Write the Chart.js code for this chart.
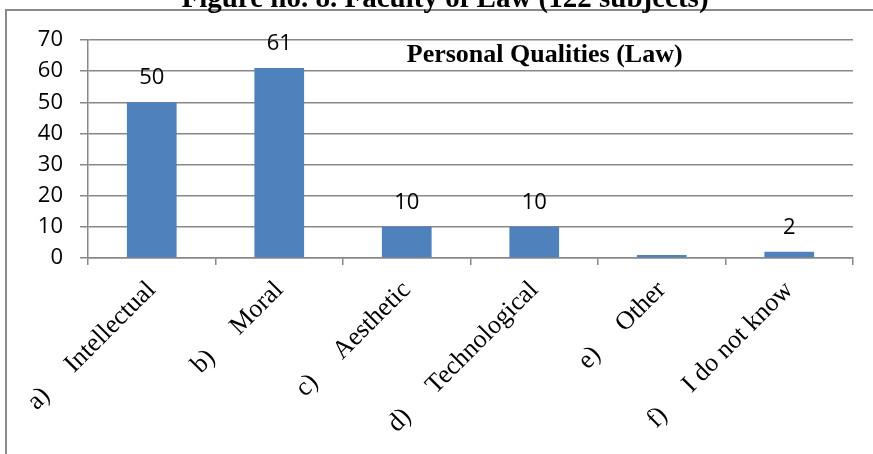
<!DOCTYPE html>
<html><head><meta charset="utf-8">
<script src="https://cdn.jsdelivr.net/npm/chart.js@4/dist/chart.umd.min.js"></script>
<style>
html,body{margin:0;padding:0;background:#fff;overflow:hidden;width:873px;height:454px;}
#frame{position:absolute;left:5px;top:9px;width:900px;height:500px;border-left:2px solid #8a8a8a;border-top:2px solid #8a8a8a;}
#wrap{position:absolute;left:0;top:0;width:873px;height:454px;}
</style></head><body>
<div id="frame"></div>
<div id="wrap"><canvas id="c" width="873" height="454"></canvas></div>
<script>
const categories = ['a)     Intellectual', 'b)     Moral', 'c)     Aesthetic', 'd)     Technological', 'e)     Other', 'f)     I do not know'];
const values = [50, 61, 10, 10, 1, 2];
const valueLabels = ['50', '61', '10', '10', '', '2'];
const yTicks = [0, 10, 20, 30, 40, 50, 60, 70];
const figureTitle = 'Figure no. 8. Faculty of Law (122 subjects)';
const chartTitle = 'Personal Qualities (Law)';

const GRID = '#888888';

const textPlugin = {
  id: 'textPlugin',
  afterDatasetsDraw(chart) {
    const ctx = chart.ctx;
    const meta = chart.getDatasetMeta(0);
    ctx.save();
    ctx.fillStyle = '#000';
    ctx.font = '22px "Open Sans"';
    ctx.textAlign = 'center';
    ctx.textBaseline = 'alphabetic';
    meta.data.forEach((bar, i) => {
      if (valueLabels[i]) ctx.fillText(valueLabels[i], bar.x, bar.y - 18);
    });
    ctx.restore();
  },
  afterDraw(chart) {
    const ctx = chart.ctx;
    const a = chart.chartArea;
    ctx.save();
    ctx.fillStyle = '#000';
    ctx.textAlign = 'center';
    ctx.textBaseline = 'alphabetic';
    ctx.font = 'bold 26px "Liberation Serif"';
    ctx.fillText(chartTitle, a.left + (a.right - a.left) * 0.597, a.top + 22);
    ctx.font = 'bold 29px "Liberation Serif"';
    ctx.fillText(figureTitle, 445, 7);
    ctx.restore();
  }
};

new Chart(document.getElementById('c'), {
  type: 'bar',
  data: {
    labels: categories,
    datasets: [{
      data: values,
      backgroundColor: '#4f81bd',
      borderWidth: 0,
      categoryPercentage: 1,
      barPercentage: 0.39
    }]
  },
  options: {
    responsive: false,
    animation: false,
    events: [],
    layout: { padding: { top: 40, right: 20, left: 0, bottom: 0 } },
    plugins: { legend: { display: false }, tooltip: { enabled: false }, title: { display: false } },
    scales: {
      y: {
        min: 0, max: 70,
        afterBuildTicks(scale) { scale.ticks = yTicks.map(v => ({ value: v })); },
        afterFit(scale) { scale.width = 88; },
        grid: { color: GRID, lineWidth: 1.5, drawTicks: true, tickLength: 8 },
        border: { display: true, color: GRID, width: 1.5 },
        ticks: { color: '#000', font: { family: 'Open Sans', size: 22 }, padding: 17 }
      },
      x: {
        afterFit(scale) { scale.height = 196; },
        grid: { offset: true, drawOnChartArea: false, drawTicks: true, tickLength: 7, color: GRID, lineWidth: 1.5 },
        border: { display: true, color: GRID, width: 1.5 },
        ticks: { color: '#000', font: { family: 'Liberation Serif', size: 26 }, minRotation: 45, maxRotation: 45, autoSkip: false, padding: 10 }
      }
    }
  },
  plugins: [textPlugin]
});
</script>
</body></html>
